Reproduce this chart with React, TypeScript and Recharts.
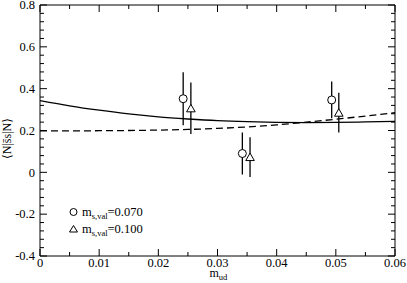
import { ComposedChart, Line, Scatter, XAxis, YAxis, ErrorBar, Label } from 'recharts';

// fitted curves, sampled along m_ud
const curveX = [0, 0.005, 0.01, 0.015, 0.02, 0.025, 0.03, 0.035, 0.04, 0.045, 0.05, 0.055, 0.06];
const solidFit = [0.343, 0.318, 0.297, 0.279, 0.265, 0.255, 0.247, 0.242, 0.239, 0.238, 0.239, 0.241, 0.244];
const dashedFit = [0.198, 0.198, 0.199, 0.2, 0.202, 0.205, 0.21, 0.217, 0.227, 0.24, 0.254, 0.269, 0.285];

// lattice points, m_s,val = 0.070
const mud070 = [0.0242, 0.0342, 0.0493];
const val070 = [0.352, 0.09, 0.346];
const err070 = [0.127, 0.1, 0.088];

// lattice points, m_s,val = 0.100
const mud100 = [0.0255, 0.0355, 0.0505];
const val100 = [0.306, 0.073, 0.285];
const err100 = [0.123, 0.095, 0.095];

const xTicks = [0, 0.01, 0.02, 0.03, 0.04, 0.05, 0.06];
const xMinorTicks = [0.005, 0.015, 0.025, 0.035, 0.045, 0.055];
const yTicks = [-0.4, -0.2, 0, 0.2, 0.4, 0.6, 0.8];
const yMinorTicks = [
  -0.36, -0.32, -0.28, -0.24, -0.16, -0.12, -0.08, -0.04,
  0.04, 0.08, 0.12, 0.16, 0.24, 0.28, 0.32, 0.36,
  0.44, 0.48, 0.52, 0.56, 0.64, 0.68, 0.72, 0.76,
];

const curves = curveX.map((x, i) => ({ x, solid: solidFit[i], dashed: dashedFit[i] }));
const circles = mud070.map((x, i) => ({ x, y: val070[i], err: err070[i] }));
const triangles = mud100.map((x, i) => ({ x, y: val100[i], err: err100[i] }));

const serif = { fontFamily: 'Liberation Serif, DejaVu Serif, Times New Roman, serif' };
const MAJOR = 7;
const MINOR = 4;

const fmt = (v: number) => (v === 0 ? '0' : String(v));

function CircleMark({ cx, cy }: any) {
  return <circle cx={cx} cy={cy} r={4} fill="#fff" stroke="#000" strokeWidth={1} />;
}

function TriangleMark({ cx, cy }: any) {
  return (
    <polygon
      points={`${cx},${cy - 4} ${cx + 4.3},${cy + 3.5} ${cx - 4.3},${cy + 3.5}`}
      fill="#fff"
      stroke="#000"
      strokeWidth={1}
    />
  );
}

// tick renderers: the axis passes the point on the axis line (tickSize=0, tickMargin=0)
function BottomTick({ x, y, payload }: any) {
  const major = xTicks.includes(payload.value);
  return (
    <g>
      <line x1={x} x2={x} y1={y} y2={y - (major ? MAJOR : MINOR)} stroke="#000" />
      {major && (
        <text x={x} y={y + 11} textAnchor="middle" style={serif} fontSize={12.5} fill="#000">
          {fmt(payload.value)}
        </text>
      )}
    </g>
  );
}

function TopTick({ x, y, payload }: any) {
  const major = xTicks.includes(payload.value);
  return <line x1={x} x2={x} y1={y} y2={y + (major ? MAJOR : MINOR)} stroke="#000" />;
}

function LeftTick({ x, y, payload }: any) {
  const major = yTicks.includes(payload.value);
  return (
    <g>
      <line x1={x} x2={x + (major ? MAJOR : MINOR)} y1={y} y2={y} stroke="#000" />
      {major && (
        <text x={x - 5} y={y + 4.3} textAnchor="end" style={serif} fontSize={12.5} fill="#000">
          {fmt(payload.value)}
        </text>
      )}
    </g>
  );
}

function RightTick({ x, y, payload }: any) {
  const major = yTicks.includes(payload.value);
  return <line x1={x} x2={x - (major ? MAJOR : MINOR)} y1={y} y2={y} stroke="#000" />;
}

function YTitle({ viewBox }: any) {
  const cy = viewBox.y + viewBox.height / 2 + 8;
  return (
    <text
      x={11}
      y={cy}
      transform={`rotate(-90, 11, ${cy})`}
      textAnchor="middle"
      style={serif}
      fontSize={12}
      fill="#000"
    >
      {'\u27E8N|s\u0304s|N\u27E9'}
    </text>
  );
}

function XTitle({ viewBox }: any) {
  const cx = viewBox.x + viewBox.width / 2;
  return (
    <text x={cx - 8} y={277} style={serif} fontSize={12} fill="#000">
      m
      <tspan dy={2.5} fontSize={8.5}>ud</tspan>
    </text>
  );
}

export default function App() {
  const allX = [...xTicks, ...xMinorTicks];
  const allY = [...yTicks, ...yMinorTicks];
  return (
    <div style={{ position: 'absolute', left: 0, top: 0, width: 407, height: 283, background: '#fff' }}>
      <ComposedChart width={407} height={283} data={curves} margin={{ top: 4, right: 11, bottom: 0, left: 0 }}>
        <XAxis
          xAxisId="main"
          type="number"
          dataKey="x"
          domain={[0, 0.06]}
          allowDataOverflow
          ticks={allX}
          interval={0}
          tick={<BottomTick />}
          tickLine={false}
          tickSize={0}
          tickMargin={0}
          height={27}
          axisLine={{ stroke: '#000' }}
        >
          <Label content={<XTitle />} />
        </XAxis>
        <XAxis
          xAxisId="top"
          orientation="top"
          type="number"
          dataKey="x"
          domain={[0, 0.06]}
          allowDataOverflow
          ticks={allX}
          interval={0}
          tick={<TopTick />}
          tickLine={false}
          tickSize={0}
          tickMargin={0}
          height={1}
          axisLine={{ stroke: '#000' }}
        />
        <YAxis
          yAxisId="main"
          type="number"
          domain={[-0.4, 0.8]}
          allowDataOverflow
          ticks={allY}
          interval={0}
          tick={<LeftTick />}
          tickLine={false}
          tickSize={0}
          tickMargin={0}
          width={40}
          axisLine={{ stroke: '#000' }}
        >
          <Label content={<YTitle />} />
        </YAxis>
        <YAxis
          yAxisId="right"
          orientation="right"
          type="number"
          domain={[-0.4, 0.8]}
          allowDataOverflow
          ticks={allY}
          interval={0}
          tick={<RightTick />}
          tickLine={false}
          tickSize={0}
          tickMargin={0}
          width={1}
          axisLine={{ stroke: '#000' }}
        />
        <Line
          xAxisId="main"
          yAxisId="main"
          type="monotone"
          dataKey="solid"
          stroke="#000"
          strokeWidth={1.3}
          dot={false}
          isAnimationActive={false}
        />
        <Line
          xAxisId="main"
          yAxisId="main"
          type="monotone"
          dataKey="dashed"
          stroke="#000"
          strokeWidth={1.3}
          strokeDasharray="7 4"
          dot={false}
          isAnimationActive={false}
        />
        <Scatter
          xAxisId="main"
          yAxisId="main"
          data={circles}
          dataKey="y"
          shape={<CircleMark />}
          isAnimationActive={false}
        >
          <ErrorBar dataKey="err" direction="y" width={0} stroke="#000" strokeWidth={1.3} isAnimationActive={false} />
        </Scatter>
        <Scatter
          xAxisId="main"
          yAxisId="main"
          data={triangles}
          dataKey="y"
          shape={<TriangleMark />}
          isAnimationActive={false}
        >
          <ErrorBar dataKey="err" direction="y" width={0} stroke="#000" strokeWidth={1.3} isAnimationActive={false} />
        </Scatter>
      </ComposedChart>
      <svg
        width={407}
        height={283}
        style={{ position: 'absolute', left: 0, top: 0, pointerEvents: 'none' }}
      >
        <circle cx={73.5} cy={212} r={3.5} fill="#fff" stroke="#000" strokeWidth={1} />
        <text x={82} y={215.5} style={serif} fontSize={12.5} fill="#000">
          m
          <tspan dy={3} fontSize={8.5}>s,val</tspan>
          <tspan dy={-3}>=0.070</tspan>
        </text>
        <polygon points="73.5,225.5 77.5,232 69.5,232" fill="#fff" stroke="#000" strokeWidth={1} />
        <text x={82} y={232.5} style={serif} fontSize={12.5} fill="#000">
          m
          <tspan dy={3} fontSize={8.5}>s,val</tspan>
          <tspan dy={-3}>=0.100</tspan>
        </text>
      </svg>
    </div>
  );
}
